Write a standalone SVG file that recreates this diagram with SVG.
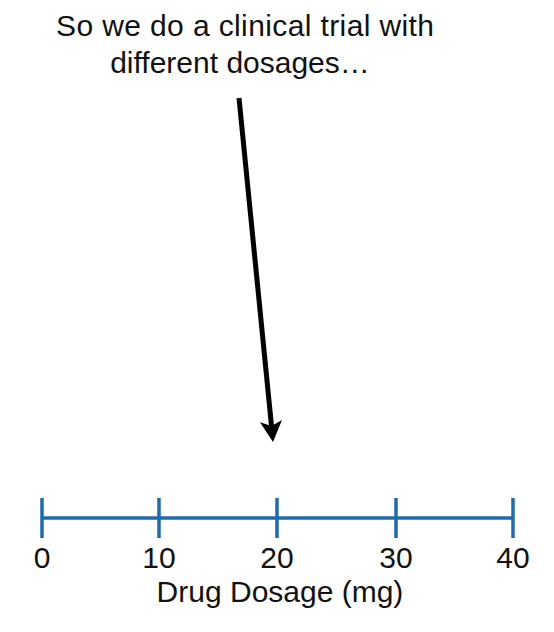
<svg xmlns="http://www.w3.org/2000/svg" width="554" height="632" viewBox="0 0 554 632">
<style>
text{font-family:"Liberation Sans",Arial,sans-serif;font-size:30px;fill:#111;text-anchor:middle}
.ax{stroke:#1f6aad;stroke-width:3.5;fill:none}
</style>
<rect width="554" height="632" fill="#fff"/>
<g id="title">
<text x="245" y="36" textLength="378" lengthAdjust="spacing">So we do a clinical trial with</text>
<text x="240" y="73">different dosages…</text>
</g>
<g id="connectors">
<line x1="239" y1="98" x2="271.5" y2="426" stroke="#000" stroke-width="5"/>
<path d="M273,442 L282,420 L271.5,426 L260,422.2 Z" fill="#000"/>
</g>
<g id="axis">
<line class="ax" x1="42" y1="518" x2="513" y2="518"/>
<line class="ax" x1="42" y1="498" x2="42" y2="538"/>
<line class="ax" x1="159" y1="498" x2="159" y2="538"/>
<line class="ax" x1="277" y1="498" x2="277" y2="538"/>
<line class="ax" x1="396" y1="498" x2="396" y2="538"/>
<line class="ax" x1="513" y1="498" x2="513" y2="538"/>
<text x="42" y="568">0</text>
<text x="159" y="568">10</text>
<text x="277" y="568">20</text>
<text x="396" y="568">30</text>
<text x="513" y="568">40</text>
<text x="280" y="602">Drug Dosage (mg)</text>
</g>
</svg>
